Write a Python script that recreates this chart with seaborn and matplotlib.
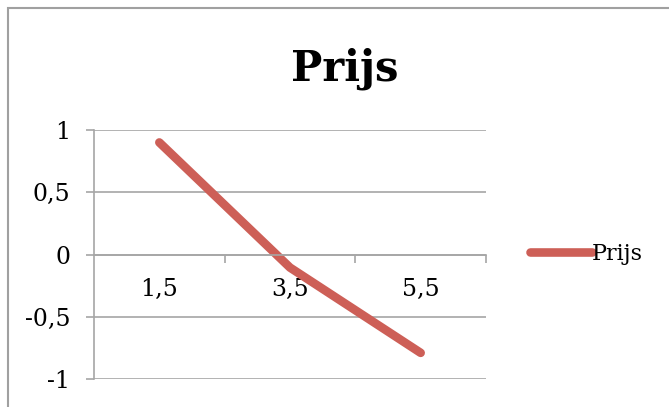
import matplotlib
matplotlib.use("Agg")
import matplotlib.pyplot as plt
from matplotlib.patches import Rectangle
from matplotlib.ticker import FixedLocator
import seaborn as sns
import pandas as pd

categories = ["1,5", "3,5", "5,5"]
prijs = [0.9, -0.105, -0.79]
y_ticks = [-1, -0.5, 0, 0.5, 1]
y_labels = ["-1", "-0,5", "0", "0,5", "1"]

sns.set_theme(style="white")
plt.rcParams["font.family"] = ["DejaVu Serif"]
plt.rcParams["text.color"] = "black"
plt.rcParams["xtick.color"] = "black"
plt.rcParams["ytick.color"] = "black"

W, H = 669, 407
fig = plt.figure(figsize=(W / 100, H / 100), dpi=100)
ax = fig.add_axes([94 / W, 28 / H, (486 - 94) / W, (379 - 130) / H])

df = pd.DataFrame({"x": range(len(categories)), "Prijs": prijs})
sns.lineplot(data=df, x="x", y="Prijs", ax=ax, color="#CD5F57", linewidth=6.2,
             label="Prijs", sort=False)
for ln in ax.lines:
    ln.set_solid_capstyle("round")
    ln.set_solid_joinstyle("round")

grid_c = "#A6A6A6"
ax.set_xlim(-0.5, len(categories) - 0.5)
ax.set_ylim(-1, 1)
ax.set_yticks(y_ticks)
ax.set_yticklabels(y_labels, fontsize=17)
for y in y_ticks:
    ax.axhline(y, color=grid_c, linewidth=1.2, zorder=0)

# category axis drawn across the zero line
ax.spines["bottom"].set_position(("data", 0))
ax.spines["bottom"].set_color(grid_c)
ax.spines["bottom"].set_linewidth(1.2)
ax.spines["left"].set_color(grid_c)
ax.spines["left"].set_linewidth(1.2)
ax.spines["top"].set_visible(False)
ax.spines["right"].set_visible(False)

ax.xaxis.set_major_locator(FixedLocator([0.5, 1.5, 2.5]))
ax.xaxis.set_minor_locator(FixedLocator(list(range(len(categories)))))
ax.set_xticklabels([], minor=False)
ax.set_xticklabels(categories, minor=True, fontsize=17)
ax.tick_params(axis="x", which="major", direction="out", length=6, width=1.2,
               color=grid_c, bottom=True)
ax.tick_params(axis="x", which="minor", length=0, pad=17, bottom=True)
ax.tick_params(axis="y", direction="out", length=6, width=1.2, color=grid_c,
               left=True, pad=11)
ax.set_xlabel("")
ax.set_ylabel("")

fig.text(345 / W, 1 - 81 / H, "Prijs", ha="center", va="baseline",
         fontsize=30, fontweight="bold")

ax.legend(loc="center left", bbox_to_anchor=(530 / W, 1 - 254 / H),
          bbox_transform=fig.transFigure, frameon=False, fontsize=16,
          handlelength=2.8, handletextpad=0.0, borderaxespad=0, borderpad=0)

fig.patches.append(Rectangle((8 / W, -0.1), 2, (H - 8) / H + 0.1,
                             transform=fig.transFigure, fill=False,
                             edgecolor="#A0A0A0", linewidth=1.5))

fig.savefig("out.png", dpi=100)
